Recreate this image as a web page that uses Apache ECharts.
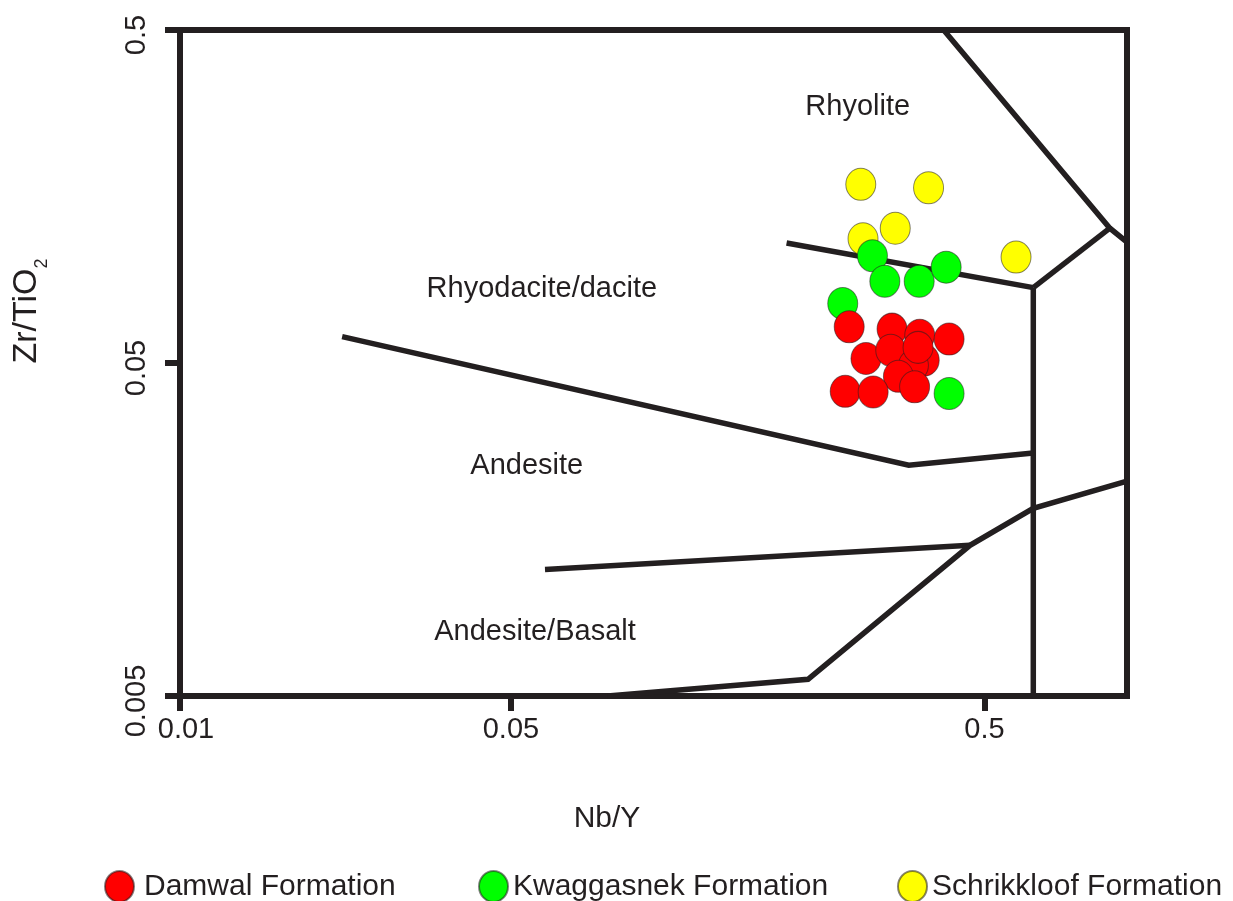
<!DOCTYPE html>
<html>
<head>
<meta charset="utf-8">
<script src="https://cdn.jsdelivr.net/npm/echarts@6/dist/echarts.min.js"></script>
<style>
  html, body { margin: 0; padding: 0; background: #ffffff; }
  #chart { width: 1233px; height: 901px; }
</style>
</head>
<body>
<div id="chart"></div>
<script>
// Nb/Y versus Zr/TiO2 discrimination diagram (log–log)

const xTicks = [0.01, 0.05, 0.5];
const yTicks = [0.005, 0.05, 0.5];

const formationNames = ['Damwal Formation', 'Kwaggasnek Formation', 'Schrikkloof Formation'];

// samples: [Nb/Y, Zr/TiO2]
const schrikkloof = [
  [0.274, 0.172], [0.381, 0.168], [0.324, 0.127], [0.277, 0.118], [0.583, 0.104]
];
const kwaggasnek = [
  [0.290, 0.105], [0.308, 0.088], [0.364, 0.088], [0.415, 0.097], [0.251, 0.0755], [0.421, 0.0405]
];
const damwal = [
  [0.259, 0.0642], [0.319, 0.0632], [0.365, 0.0606], [0.421, 0.0590], [0.281, 0.0516],
  [0.317, 0.0546], [0.373, 0.0510], [0.354, 0.0492], [0.329, 0.0456], [0.356, 0.0424],
  [0.254, 0.0411], [0.291, 0.0409], [0.362, 0.0557]
];

// field boundaries: [Nb/Y, Zr/TiO2]
const rhyoliteComendite = [[0.41, 0.5], [0.92, 0.127], [1.0, 0.1153]];
const comenditeTrachyte = [[0.92, 0.127], [0.634, 0.0842]];
const rhyoliteRhyodacite = [[0.191, 0.1146], [0.634, 0.0842]];
const trachyanDivide = [[0.634, 0.0842], [0.634, 0.005]];
const rhyodaciteAndesite = [[0.022, 0.060], [0.346, 0.02465], [0.634, 0.02685]];
const andesiteBasalt = [[0.059, 0.0120], [0.466, 0.01417]];
const subalkalineAlkaline = [[0.080, 0.005], [0.212, 0.00561], [0.466, 0.01417], [0.634, 0.0183], [1.0, 0.0221]];

const boundaries = [
  rhyoliteComendite, comenditeTrachyte, rhyoliteRhyodacite, trachyanDivide,
  rhyodaciteAndesite, andesiteBasalt, subalkalineAlkaline
];

// field names and where they sit: [Nb/Y, Zr/TiO2]
const fieldNames = ['Rhyolite', 'Rhyodacite/dacite', 'Andesite', 'Andesite/Basalt'];
const fieldAnchors = [[0.270, 0.2935], [0.0581, 0.0833], [0.0540, 0.0245], [0.0562, 0.00776]];

const INK = '#231f20';
const FONT = '"Liberation Sans", Arial, sans-serif';
const ELLIPSE = 'path://M0,16A15,16,0,1,1,30,16A15,16,0,1,1,0,16Z';

const chart = echarts.init(document.getElementById('chart'), null, { renderer: 'canvas' });

const fmt = v => String(+Number(v).toPrecision(3));
// the corner label sits a little to the right of its tick
const fmtX = v => (Math.abs(v - xTicks[0]) < 1e-9 ? '{corner|' + fmt(v) + '}' : fmt(v));

const boundarySeries = boundaries.map((pts, i) => ({
  type: 'line',
  name: 'boundary' + i,
  data: pts,
  symbol: 'none',
  silent: true,
  z: 2,
  lineStyle: { color: INK, width: 5.5, join: 'miter', cap: 'butt' },
  animation: false
}));

const sampleSeries = [
  { name: formationNames[2], data: schrikkloof, color: '#ffff00' },
  { name: formationNames[1], data: kwaggasnek, color: '#00ff00' },
  { name: formationNames[0], data: damwal, color: '#ff0000' }
].map(s => ({
  type: 'scatter',
  name: s.name,
  data: s.data,
  symbol: ELLIPSE,
  symbolSize: [30, 32],
  z: 3,
  itemStyle: { color: s.color, borderColor: 'rgba(35,31,32,0.55)', borderWidth: 1, opacity: 1 },
  animation: false
}));

const labelSeries = {
  type: 'scatter',
  name: 'fields',
  silent: true,
  symbol: 'circle',
  symbolSize: 0,
  z: 4,
  itemStyle: { color: INK },
  data: fieldNames.map((n, i) => ({ name: n, value: fieldAnchors[i] })),
  label: {
    show: true,
    position: [0, 0],
    align: 'center',
    verticalAlign: 'middle',
    formatter: '{b}',
    color: INK,
    opacity: 1,
    textBorderWidth: 0,
    fontSize: 29,
    fontFamily: FONT
  },
  emphasis: { disabled: true },
  animation: false
};

const legendLefts = [104, 478, 897];
const legendPads = [5, 0, 0];

chart.setOption({
  backgroundColor: '#ffffff',
  animation: false,
  textStyle: { fontFamily: FONT, color: INK },
  grid: {
    left: 180, top: 30, width: 947, height: 666,
    show: true, borderColor: INK, borderWidth: 6, backgroundColor: 'transparent'
  },
  xAxis: {
    type: 'log',
    logBase: 10,
    min: 0.01,
    max: 1,
    name: 'Nb/Y',
    nameLocation: 'middle',
    nameGap: 108,
    nameTextStyle: { fontSize: 30, color: INK, fontFamily: FONT, padding: [0, 93, 0, 0] },
    axisLine: { show: true, lineStyle: { color: INK, width: 6 } },
    axisTick: { show: true, length: 15, lineStyle: { color: INK, width: 6 }, customValues: xTicks },
    axisLabel: {
      show: true, fontSize: 29, color: INK, fontFamily: FONT, margin: 19,
      customValues: xTicks, formatter: fmtX,
      rich: { corner: { fontSize: 29, color: INK, fontFamily: FONT, padding: [0, 0, 0, 12] } }
    },
    splitLine: { show: false },
    minorTick: { show: false }
  },
  yAxis: {
    type: 'log',
    logBase: 10,
    min: 0.005,
    max: 0.5,
    name: '{a|Zr/TiO}{s|2}',
    nameLocation: 'middle',
    nameGap: 129,
    nameTextStyle: {
      color: INK,
      fontFamily: FONT,
      padding: [0, 0, 0, 104],
      rich: {
        a: { fontSize: 34, color: INK, fontFamily: FONT },
        s: { fontSize: 18, color: INK, fontFamily: FONT, verticalAlign: 'bottom', padding: [30, 0, 0, 0] }
      }
    },
    axisLine: { show: true, lineStyle: { color: INK, width: 6 } },
    axisTick: { show: true, length: 15, lineStyle: { color: INK, width: 6 }, customValues: yTicks },
    axisLabel: {
      show: true, rotate: 90, fontSize: 29, color: INK, fontFamily: FONT, margin: 29,
      padding: [0, 10, 0, 0], customValues: yTicks, formatter: fmt
    },
    splitLine: { show: false },
    minorTick: { show: false }
  },
  legend: formationNames.map((n, i) => ({
    data: [{ name: n, icon: ELLIPSE }],
    left: legendLefts[i],
    top: 870,
    padding: 0,
    orient: 'horizontal',
    itemWidth: 29,
    itemHeight: 32,
    selectedMode: false,
    textStyle: { fontSize: 30, color: INK, fontFamily: FONT, padding: [0, 0, 0, legendPads[i]] }
  })),
  series: [...boundarySeries, ...sampleSeries, labelSeries]
});
</script>
</body>
</html>
